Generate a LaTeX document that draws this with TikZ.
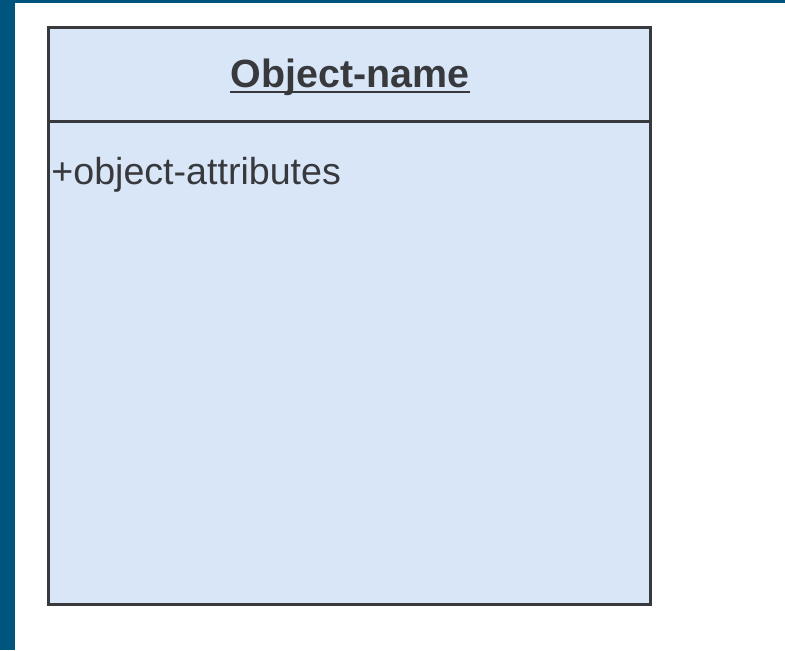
\documentclass[tikz,border=0pt]{standalone}
\usepackage{fontspec}
\setmainfont{Liberation Sans}
\usepackage{tikz}
\usetikzlibrary{positioning}

\definecolor{framecol}{HTML}{00557F}
\definecolor{boxfill}{HTML}{D8E6F8}
\definecolor{boxline}{HTML}{38393D}

\begin{document}
\begin{tikzpicture}
	[x=0.5pt, y=-0.5pt,
	box_style/.style={rectangle, draw=boxline, fill=boxfill, line width=1.5pt,
		minimum width=301pt, minimum height=288.5pt, inner sep=0pt},
	title_style/.style={inner sep=0pt, text=boxline,
		font=\fontsize{19.7}{23}\selectfont\bfseries},
	attr_style/.style={inner sep=0pt, font=\fontsize{18.8}{22}\selectfont, text=boxline},
	rule_style/.style={draw=boxline, line width=1.1pt}]
	\useasboundingbox (0,0) rectangle (785,650);
	\fill[white] (0,0) rectangle (785,650);
	% dark frame along the left and top
	\fill[framecol] (0,0) rectangle (15,650);
	\fill[framecol] (0,0) rectangle (785,3);

	% object box, name compartment and attribute compartment
	\node[box_style, anchor=north west] (obj) at (47,26) {};
	\coordinate (sep_l) at (47,121.5);
	\coordinate (sep_r) at (649,121.5);
	\draw[rule_style, line width=1.3pt] (sep_l) -- (sep_r);

	\node[title_style, anchor=base] (title) at (350,87) {Object-name};
	\draw[rule_style, line width=1pt] ([yshift=-2.6pt]title.base west) -- ([yshift=-2.6pt]title.base east);

	\node[attr_style, anchor=base west] (attr) at (51,184) {+object-attributes};
\end{tikzpicture}
\end{document}
